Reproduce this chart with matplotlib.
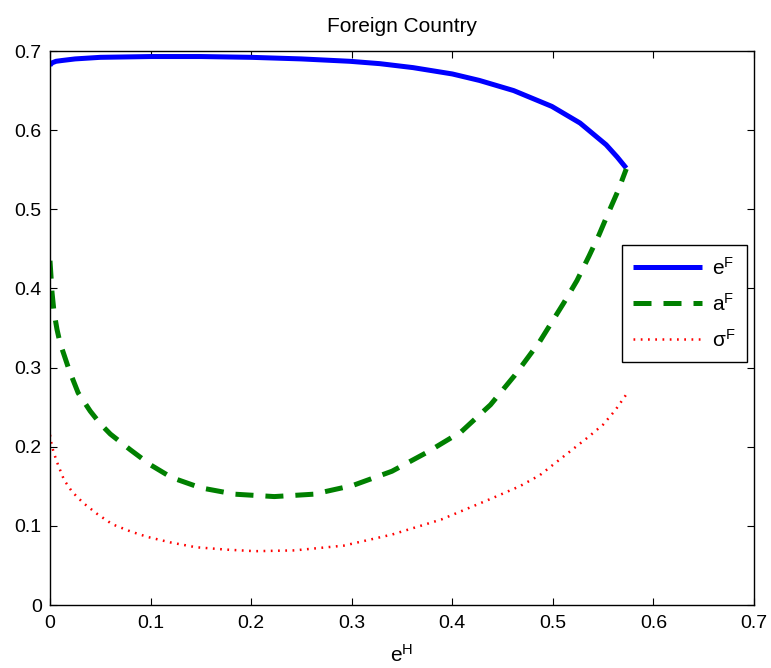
import matplotlib
matplotlib.use("Agg")
import matplotlib.pyplot as plt

plt.rcParams['font.family'] = ['Liberation Sans', 'DejaVu Sans']
plt.rcParams['mathtext.fontset'] = 'custom'
plt.rcParams['mathtext.rm'] = 'Liberation Sans'
plt.rcParams['mathtext.it'] = 'Liberation Sans'

# Data
eF_x = [0, 0.002, 0.006, 0.012, 0.025, 0.05, 0.1, 0.15, 0.2, 0.25, 0.298,
        0.328, 0.361, 0.400, 0.427, 0.461, 0.499, 0.527, 0.553, 0.564, 0.573]
eF_y = [0.682, 0.685, 0.687, 0.688, 0.690, 0.692, 0.693, 0.693, 0.692, 0.690,
        0.687, 0.684, 0.679, 0.671, 0.6628, 0.650, 0.630, 0.609, 0.5815,
        0.566, 0.552]

aF_x = [0, 0.001, 0.002, 0.004, 0.007, 0.010, 0.014, 0.019, 0.028, 0.04, 0.05,
        0.06, 0.08, 0.1, 0.121, 0.15, 0.184, 0.223, 0.262, 0.301, 0.34, 0.375,
        0.409, 0.438, 0.462, 0.487, 0.511, 0.524, 0.536, 0.546, 0.555, 0.565,
        0.573]
aF_y = [0.435, 0.415, 0.395, 0.37, 0.348, 0.331, 0.316, 0.297, 0.268, 0.245,
        0.229, 0.216, 0.196, 0.177, 0.161, 0.148, 0.140, 0.137, 0.140, 0.151,
        0.169, 0.193, 0.219, 0.253, 0.29, 0.333, 0.382, 0.41, 0.441, 0.468,
        0.495, 0.524, 0.551]

sF_x = [0, 0.002, 0.005, 0.008, 0.014, 0.022, 0.033, 0.047, 0.062, 0.08, 0.097,
        0.12, 0.145, 0.175, 0.204, 0.243, 0.292, 0.34, 0.389, 0.438, 0.467,
        0.487, 0.517, 0.535, 0.55, 0.562, 0.573]
sF_y = [0.215, 0.200, 0.188, 0.177, 0.158, 0.143, 0.129, 0.115, 0.102, 0.093,
        0.086, 0.079, 0.073, 0.070, 0.068, 0.069, 0.075, 0.089, 0.108, 0.134,
        0.150, 0.164, 0.194, 0.212, 0.228, 0.246, 0.266]

labels = ['$\\mathregular{e^F}$', '$\\mathregular{a^F}$', '$\\mathregular{\\sigma^F}$']
xticks = [0, 0.1, 0.2, 0.3, 0.4, 0.5, 0.6, 0.7]
yticks = [0, 0.1, 0.2, 0.3, 0.4, 0.5, 0.6, 0.7]
xtick_labels = ['0', '0.1', '0.2', '0.3', '0.4', '0.5', '0.6', '0.7']
ytick_labels = ['0', '0.1', '0.2', '0.3', '0.4', '0.5', '0.6', '0.7']

fig = plt.figure(figsize=(7.71, 6.68), dpi=100)
ax = fig.add_axes([50/771, 63/668, 704/771, 554/668])

ax.plot(eF_x, eF_y, color='#0000ff', lw=3.6, label=labels[0],
        solid_capstyle='butt', solid_joinstyle='round')
ax.plot(aF_x, aF_y, color='#008000', lw=3.6, linestyle=(0, (3.6, 2.4)),
        label=labels[1], dash_capstyle='butt', dash_joinstyle='round')
ax.plot(sF_x, sF_y, color='#ff0000', lw=1.8, linestyle=(0, (0.7, 2.2)),
        label=labels[2], dash_capstyle='butt')

ax.set_xlim(0, 0.7)
ax.set_ylim(0, 0.7)
ax.set_xticks(xticks)
ax.set_xticklabels(xtick_labels)
ax.set_yticks(yticks)
ax.set_yticklabels(ytick_labels)
ax.tick_params(direction='in', length=5, width=0.8, labelsize=14,
               top=True, right=True, pad=6)
ax.tick_params(axis='x', pad=7)
for s in ax.spines.values():
    s.set_linewidth(1.0)

ax.set_title('Foreign Country', fontsize=15, pad=14)
ax.set_xlabel('$\\mathregular{e^H}$', fontsize=15, labelpad=9)

leg = ax.legend(loc='center left', bbox_to_anchor=(0.8125, 0.544),
                fontsize=15, handlelength=3.3, handletextpad=0.45,
                labelspacing=0.68, borderpad=0.55, fancybox=False,
                framealpha=1, edgecolor='black', borderaxespad=0)
leg.get_frame().set_linewidth(1.0)

fig.savefig('out.png', dpi=100)
